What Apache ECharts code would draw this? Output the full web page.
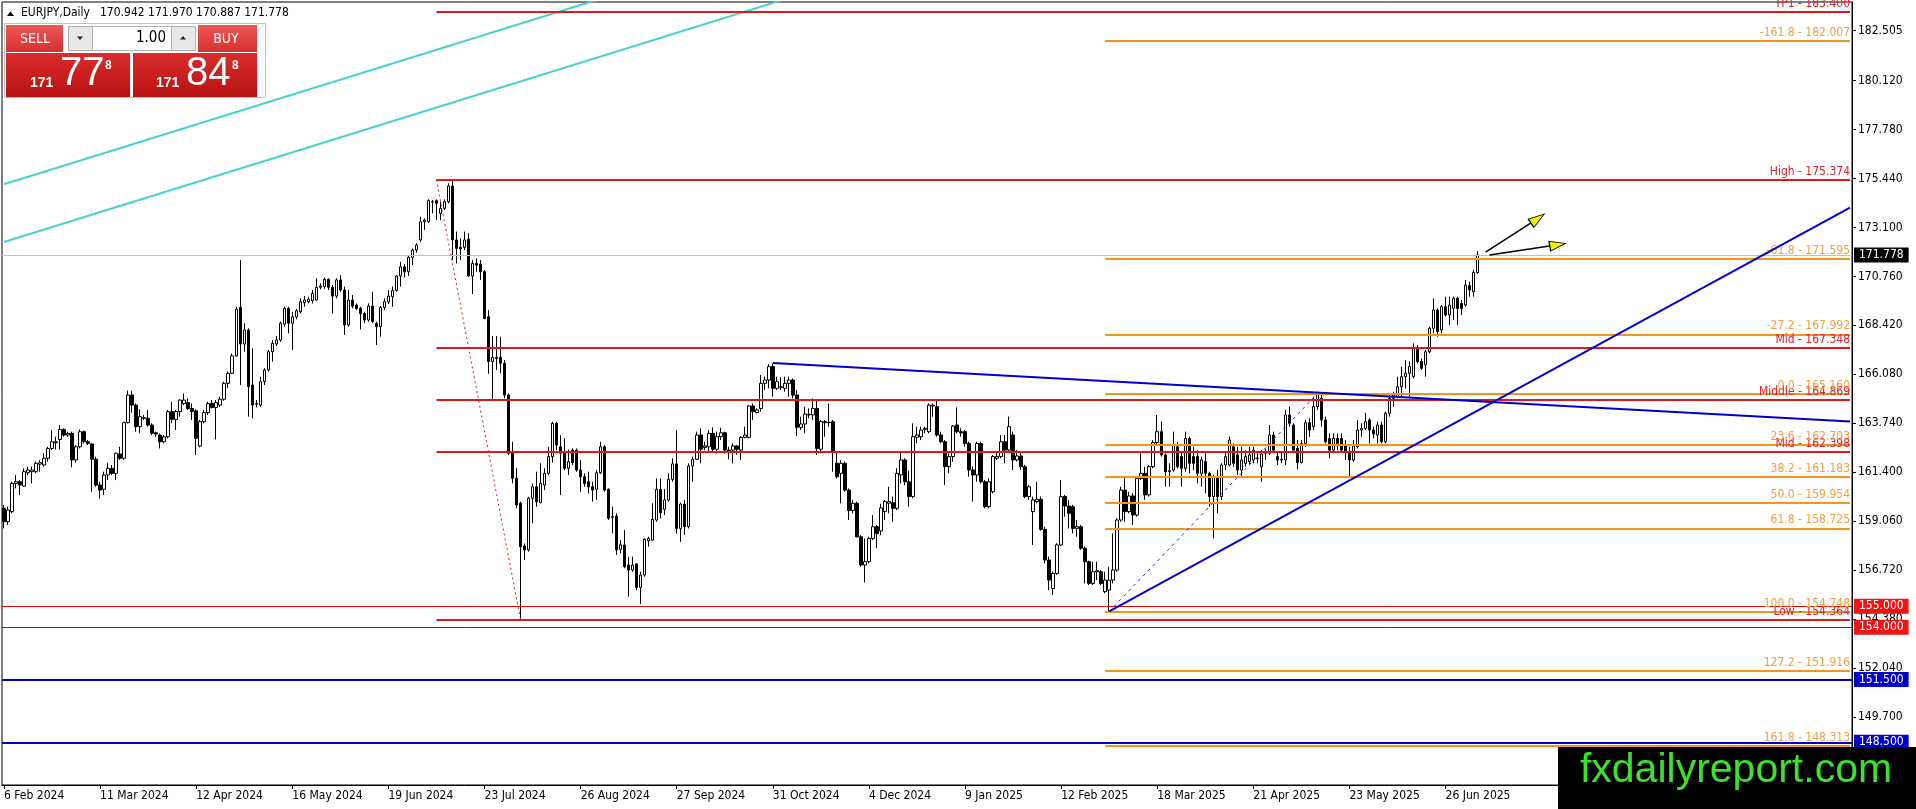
<!DOCTYPE html>
<html><head><meta charset="utf-8">
<script src="https://cdn.jsdelivr.net/npm/echarts@6/dist/echarts.min.js"></script>
<style>html,body{margin:0;padding:0;background:#fff;overflow:hidden}#c{width:1916px;height:809px}</style>
</head><body><div id="c"></div>
<script>
// ---------------- data ----------------
const symbolTitle = 'EURJPY,Daily';
const lastQuote = [170.942, 171.970, 170.887, 171.778];
const tickLabels = ['6 Feb 2024','11 Mar 2024','12 Apr 2024','16 May 2024','19 Jun 2024','23 Jul 2024','26 Aug 2024','27 Sep 2024','31 Oct 2024','4 Dec 2024','9 Jan 2025','12 Feb 2025','18 Mar 2025','21 Apr 2025','23 May 2025','26 Jun 2025'];
const priceTicks = [149.700,152.040,154.380,156.720,159.060,161.400,163.740,166.080,168.420,170.760,173.100,175.440,177.780,180.120,182.505];
// daily candles [open, high, low, close]
const ohlc = [
[159.68,159.84,158.72,159.04],[159.04,159.76,158.88,159.60],[159.52,160.95,159.44,160.87],[160.87,161.27,160.63,160.95],[160.95,161.03,160.31,160.79],
[160.74,161.59,160.71,161.43],[161.38,161.67,161.27,161.51],[161.43,161.67,160.87,161.51],[161.43,161.91,161.35,161.83],[161.79,161.99,161.43,161.86],
[161.75,162.31,161.67,162.07],[162.07,162.62,161.91,162.54],[162.54,163.42,162.46,162.86],[162.81,163.10,162.49,162.86],[162.97,163.66,162.49,163.45],
[163.45,163.50,163.10,163.18],[163.18,163.34,163.10,163.26],[163.26,163.34,161.64,161.99],[161.99,162.70,161.86,162.62],[162.62,163.45,162.54,163.34],
[163.34,163.39,162.78,162.86],[162.86,162.94,162.70,162.78],[162.75,162.78,160.47,162.02],[162.02,162.15,160.71,160.79],[160.79,160.95,160.15,160.55],
[160.59,161.43,160.31,161.27],[161.27,161.86,161.03,161.59],[161.59,161.75,161.27,161.35],[161.35,162.34,161.03,162.31],[162.27,162.62,161.99,162.07],
[162.07,163.82,161.99,163.77],[163.77,165.30,163.74,165.09],[165.09,165.30,164.25,164.61],[164.61,164.69,163.34,163.58],[163.58,164.41,163.26,164.06],
[163.98,164.14,163.90,164.02],[163.98,164.38,163.58,163.66],[163.66,163.74,163.18,163.26],[163.29,163.34,163.10,163.23],[163.18,163.26,162.54,162.86],
[162.86,163.18,162.78,163.10],[163.10,164.38,163.02,164.30],[164.30,164.77,163.74,163.93],[163.93,164.38,163.42,164.30],[164.30,164.89,164.06,164.85],
[164.69,165.17,164.61,164.85],[164.73,164.93,164.38,164.45],[164.45,164.69,163.90,164.30],[164.34,164.41,162.23,163.02],[162.65,163.90,162.59,163.82],
[163.82,164.38,163.74,164.25],[164.25,164.77,164.14,164.69],[164.69,164.85,164.45,164.50],[164.50,164.85,162.97,164.73],[164.61,165.01,164.53,164.89],
[164.89,165.73,164.82,165.65],[165.65,166.21,165.41,166.13],[166.13,167.08,166.10,166.96],[166.96,169.31,166.92,169.18],[169.28,171.54,165.57,167.53],
[167.53,168.52,167.16,168.20],[168.20,168.28,164.06,165.49],[165.57,167.32,163.98,164.61],[164.65,164.85,164.50,164.69],[164.61,165.97,164.53,165.73],
[165.73,166.37,165.57,166.29],[166.29,167.24,166.21,167.16],[167.16,167.72,166.69,167.56],[167.53,167.91,167.43,167.72],[167.72,168.60,167.64,168.52],
[168.48,169.31,168.36,169.23],[169.23,169.31,168.04,168.52],[168.52,169.07,167.24,168.83],[168.83,169.20,168.71,169.12],[169.07,169.71,168.99,169.55],
[169.50,169.82,169.31,169.63],[169.55,169.79,169.47,169.66],[169.60,170.11,169.47,169.95],[169.63,170.67,169.60,170.24],[170.24,170.43,170.14,170.30],
[170.27,170.71,170.17,170.62],[170.62,170.67,170.11,170.24],[170.24,170.35,168.99,169.82],[169.82,170.67,169.71,170.59],[170.59,170.82,170.03,170.11],
[170.11,170.27,167.96,168.44],[168.44,170.11,168.36,169.63],[169.63,169.87,169.23,169.34],[169.39,169.47,169.15,169.23],[169.23,169.31,168.23,168.99],
[168.99,169.07,168.52,168.68],[168.68,169.47,168.60,169.34],[169.34,170.03,168.52,168.60],[168.52,168.60,167.48,168.36],[168.36,169.34,167.88,169.28],
[169.28,169.71,169.15,169.55],[169.54,170.11,169.44,169.82],[169.79,170.27,169.31,170.08],[170.08,170.82,170.03,170.78],[170.78,171.46,170.27,171.22],
[171.22,171.35,170.71,170.98],[170.98,171.73,170.78,171.67],[171.67,172.10,171.30,172.02],[172.02,172.34,171.89,172.26],[172.50,173.61,172.42,173.37],
[173.37,173.53,172.98,173.45],[173.37,174.44,173.33,174.38],[174.33,174.41,173.77,174.31],[174.38,174.44,173.45,174.25],[173.77,174.33,173.45,174.01],
[174.01,174.44,173.93,174.33],[174.33,175.21,174.25,175.08],[175.08,175.37,171.54,172.50],[172.50,172.90,171.38,172.10],[172.15,172.58,171.54,172.07],
[172.15,172.90,172.02,172.50],[172.53,172.82,170.75,170.78],[170.78,171.54,169.92,171.38],[171.38,171.62,170.98,171.30],[171.35,171.54,170.59,170.98],
[170.98,171.06,168.71,168.75],[168.83,169.15,166.10,166.69],[166.69,167.91,164.85,166.89],[166.84,167.91,166.29,166.89],[166.89,167.88,166.13,166.61],
[166.61,166.76,164.93,165.09],[165.09,165.17,162.23,162.31],[162.31,162.86,160.87,161.11],[161.11,161.59,159.68,159.84],[159.92,160.00,154.36,157.84],
[157.88,158.00,157.21,157.69],[157.69,160.23,157.61,160.16],[160.16,160.87,158.96,160.71],[160.71,161.43,159.76,160.00],[159.95,161.83,159.92,160.87],
[160.79,161.59,160.55,161.35],[161.35,162.62,161.27,162.15],[162.15,163.82,161.86,163.74],[163.74,163.82,162.46,162.70],[162.62,163.18,160.31,162.31],
[162.31,163.02,161.51,161.59],[161.59,162.49,161.27,161.91],[162.46,162.54,161.75,161.86],[162.46,162.54,161.43,161.51],[161.51,161.99,160.47,161.19],
[161.19,161.35,160.71,160.87],[160.95,161.43,160.39,160.71],[160.71,160.95,160.00,160.55],[160.59,161.51,160.08,161.38],[161.38,162.86,161.32,162.62],
[162.62,162.70,160.47,160.55],[160.59,160.63,159.12,159.20],[159.25,159.76,158.48,159.28],[159.31,159.44,157.45,157.69],[157.72,158.17,157.53,157.93],
[157.93,158.64,156.81,156.89],[156.97,157.37,155.46,156.73],[156.73,157.37,156.65,156.97],[157.02,157.05,155.77,155.90],[155.90,156.65,155.11,156.49],
[156.49,158.24,156.41,158.20],[158.13,158.32,157.85,158.24],[158.16,159.92,158.13,159.15],[159.12,161.11,159.04,160.59],[160.59,161.11,159.20,159.47],
[159.63,160.59,159.36,160.08],[160.08,161.35,160.00,161.06],[161.06,162.07,160.95,161.80],[161.80,163.42,158.48,158.72],[158.72,159.95,158.08,159.88],
[159.88,160.08,158.40,158.80],[158.80,161.83,158.72,161.70],[161.70,162.15,160.95,162.02],[162.02,163.34,161.99,163.18],[163.18,163.50,161.83,162.50],
[162.59,162.86,162.46,162.66],[162.62,163.42,162.38,163.26],[163.26,163.55,162.38,162.50],[162.50,163.34,162.30,163.10],[163.10,163.53,162.94,163.29],
[163.29,163.34,162.30,162.46],[162.46,162.62,162.02,162.43],[162.46,162.78,161.83,162.66],[162.66,162.70,162.23,162.50],[162.46,163.13,161.99,163.07],
[163.07,163.58,163.02,163.18],[163.07,164.61,163.02,164.57],[164.57,164.69,163.90,164.30],[164.25,164.45,164.22,164.38],[164.45,166.05,164.30,165.65],
[165.65,165.97,165.33,165.81],[165.81,166.57,165.41,166.45],[166.45,166.60,165.01,165.41],[165.41,165.97,165.33,165.73],[165.46,165.94,165.33,165.49],
[165.41,165.97,165.25,165.65],[165.65,165.97,165.01,165.81],[165.81,165.89,164.93,165.09],[165.09,165.33,163.13,163.55],[163.55,164.06,163.42,163.71],
[163.71,164.53,163.26,164.18],[164.14,164.45,163.98,164.17],[164.14,164.93,163.90,164.45],[164.45,164.85,162.23,162.54],[162.50,163.90,162.30,163.82],
[163.82,163.90,163.10,163.77],[163.77,164.69,163.58,163.79],[163.82,163.90,161.43,162.38],[161.83,162.38,161.11,161.19],[161.35,161.99,159.92,161.83],
[161.83,161.91,160.47,160.55],[160.55,160.63,159.12,159.57],[159.57,160.08,159.44,159.92],[159.92,160.00,158.29,158.32],[158.32,158.40,156.89,156.97],
[156.97,158.24,156.13,157.13],[157.13,158.32,157.05,158.24],[158.24,159.36,158.16,158.80],[158.80,158.88,157.77,158.48],[158.60,159.90,158.40,159.70],
[159.52,160.08,159.12,160.00],[159.92,160.71,159.44,160.00],[159.95,160.24,159.04,159.68],[159.68,161.59,159.60,161.35],[161.27,162.38,160.87,161.99],
[161.99,162.07,160.79,160.95],[160.95,161.48,159.76,160.24],[160.24,163.74,160.16,163.10],[163.07,163.58,162.78,163.18],[163.10,163.58,162.94,163.42],
[163.45,163.58,163.26,163.50],[163.34,164.69,163.26,164.61],[164.57,164.69,164.06,164.61],[164.53,164.85,163.10,163.18],[163.18,163.34,162.78,162.86],
[162.86,162.94,160.79,161.67],[161.67,162.30,161.35,162.15],[162.15,163.66,161.91,163.61],[163.66,164.50,163.26,163.34],[163.34,163.50,163.10,163.29],
[163.34,163.42,162.62,162.78],[162.78,162.86,161.19,161.51],[161.51,161.67,160.00,161.27],[161.27,162.86,160.95,162.78],[162.78,162.86,160.87,160.95],
[160.95,161.03,159.68,159.76],[159.76,161.11,159.68,160.95],[160.47,162.23,160.39,162.15],[162.07,162.38,161.99,162.15],[162.15,163.18,162.07,162.86],
[162.86,163.18,161.83,162.46],[162.46,164.06,162.38,163.58],[163.18,163.34,161.51,161.99],[161.99,162.46,161.91,162.18],[162.18,162.38,161.51,161.67],
[161.67,161.75,160.16,160.24],[160.24,160.79,160.08,160.71],[159.52,160.24,157.93,160.08],[160.00,160.95,159.92,160.11],[160.11,160.24,158.61,158.67],
[158.67,158.80,157.05,157.21],[157.21,157.37,155.77,156.25],[155.85,156.65,155.54,156.57],[156.57,158.01,156.49,157.93],[157.93,161.03,157.88,160.24],
[160.24,160.32,159.28,159.79],[159.79,160.08,158.72,159.44],[159.76,159.84,158.48,158.72],[158.72,159.12,158.32,158.80],[158.80,158.88,157.69,157.77],
[157.77,157.85,156.09,157.13],[157.13,157.18,156.01,156.09],[156.09,157.13,156.01,156.65],[156.65,157.13,156.25,156.70],[156.65,156.73,156.01,156.09],
[155.70,156.65,155.62,156.25],[155.77,156.89,154.75,156.25],[156.25,158.48,156.09,156.73],[156.73,159.20,156.65,159.12],[159.12,160.71,159.04,160.55],
[160.55,161.19,159.04,159.52],[159.52,160.47,159.44,160.27],[160.27,160.39,158.88,159.36],[159.36,161.19,159.28,161.11],[161.11,162.30,161.03,161.35],
[161.35,161.67,160.08,160.32],[160.32,161.75,160.24,161.67],[161.67,162.94,161.59,162.82],[162.82,164.14,162.75,163.34],[163.34,163.82,162.15,162.23],
[162.23,162.30,160.71,161.43],[161.43,161.83,160.71,161.48],[161.51,163.34,161.43,162.70],[162.62,162.86,161.59,161.67],[162.15,162.39,160.71,161.59],
[161.59,163.34,161.43,163.02],[163.02,163.10,161.35,161.83],[162.15,162.62,161.51,161.83],[162.15,162.46,160.87,161.35],[161.35,162.15,160.71,161.99],
[161.91,162.31,160.40,161.35],[161.35,161.43,159.76,160.24],[160.24,161.27,158.24,161.19],[161.19,161.51,159.44,160.24],[160.24,161.83,160.08,161.75],
[161.75,162.31,161.51,162.15],[161.75,163.10,161.67,162.94],[162.62,162.78,161.67,161.83],[162.23,162.62,161.27,161.51],[161.51,162.62,161.19,161.99],
[161.83,162.46,161.67,162.15],[161.91,162.62,161.75,162.23],[161.99,162.62,161.83,162.46],[162.05,162.31,161.83,162.08],[161.67,162.46,160.95,162.27],
[162.31,162.54,161.99,162.35],[162.31,163.66,162.23,163.18],[163.18,163.34,162.31,162.46],[162.15,162.39,161.75,161.99],[161.99,162.39,161.83,162.02],
[161.99,164.38,161.75,164.14],[164.14,164.54,163.58,163.74],[163.66,163.74,162.31,162.46],[162.54,162.94,161.54,161.86],[161.86,162.94,161.83,162.78],
[162.78,163.90,162.62,163.77],[163.77,163.98,163.10,163.42],[163.58,165.01,163.42,164.54],[164.54,165.25,164.38,165.17],[164.93,165.17,163.58,163.90],
[163.90,164.06,162.78,162.86],[163.02,163.26,162.07,162.46],[162.46,163.26,162.31,163.02],[163.02,163.26,162.46,162.78],[163.02,163.26,162.39,162.46],
[162.70,162.94,161.99,162.39],[162.39,162.62,161.19,161.99],[161.99,162.94,161.91,162.66],[162.62,163.90,162.54,163.42],[163.42,163.74,163.10,163.50],
[163.50,164.25,163.42,163.82],[163.90,163.98,162.78,163.42],[163.42,163.58,163.02,163.23],[163.18,163.82,162.78,163.66],[163.66,163.82,162.78,162.86],
[162.86,164.30,162.78,164.22],[164.22,165.09,164.06,164.93],[164.93,165.25,164.54,165.09],[165.01,165.97,164.93,165.49],[165.49,166.45,165.01,165.97],
[165.97,166.76,165.41,166.13],[166.13,166.69,165.01,166.45],[165.97,167.56,165.89,167.32],[167.32,167.48,166.61,166.69],[166.69,166.84,166.29,166.37],
[166.53,167.24,165.97,167.16],[167.16,168.36,167.08,168.28],[168.28,169.71,168.04,169.15],[169.15,169.23,167.88,168.12],[168.20,169.39,168.04,169.31],
[169.31,169.79,168.84,168.92],[168.92,169.79,168.44,169.39],[169.23,169.79,168.68,169.71],[169.71,169.79,168.44,169.23],[169.47,169.63,168.92,169.23],
[169.39,170.59,169.31,170.35],[170.32,170.51,169.79,170.11],[170.03,171.07,169.79,170.95],[170.942,171.970,170.887,171.778]
];
// horizontal level objects
const redLevels = [['TP1',183.400],['High',175.374],['Mid',167.348],['Middle',164.869],['Mid',162.398],['Low',154.364]];
const redLevelStart = 108;
const fibLevels = [[-161.8,182.007],[-61.8,171.595],[-27.2,167.992],[0.0,165.160],[23.6,162.703],[38.2,161.183],[50.0,159.954],[61.8,158.725],[100.0,154.748],[127.2,151.916],[161.8,148.313]];
const fibStart = 275;
const thinRedLines = [155.000, 154.000];
const blueLines = [151.500, 148.500];
const bidPrice = 171.778;
// trend line anchors [bar index, price]
const cyanLineA = [[0,172.40],[260,187.87]];
const cyanLineB = [[0,175.16],[200,187.06]];
const downTrend = [[192,166.62],[461,163.83]];
const upTrend = [[276,154.75],[461,174.05]];
const hiLoDiag = [[108,175.374],[129,154.364]];
const fibDiag = [[276,154.748],[328,165.160]];
const arrowUp = [[370,171.92],[383,173.52]];
const arrowRight = [[371,171.78],[388,172.27]];

// ---------------- chart ----------------
const FONT = "'DejaVu Sans Condensed','Liberation Sans',Arial,sans-serif";
const ARIAL = "'Liberation Sans',Arial,sans-serif";
const N_SLOTS = 462, LAST = N_SLOTS - 1;
const Y_MIN = 146.46, Y_MAX = 183.87;
const RED = '#dc1a1a', ORANGE = '#f39422', ORANGE_TXT = '#eea040', BLUE = '#0000cd';
const MON = ['Jan','Feb','Mar','Apr','May','Jun','Jul','Aug','Sep','Oct','Nov','Dec'];
const categories = [];
{ const d = new Date(Date.UTC(2024,1,6));
  while (categories.length < N_SLOTS) {
    const wd = d.getUTCDay();
    if (wd !== 0 && wd !== 6) categories.push(d.getUTCDate()+' '+MON[d.getUTCMonth()]+' '+d.getUTCFullYear());
    d.setUTCDate(d.getUTCDate()+1);
  } }
const showTick = (i) => i % 24 === 0 && i / 24 < tickLabels.length;

const ml = [];
redLevels.forEach(([n,p]) => ml.push([
  {coord:[redLevelStart,p], lineStyle:{color:RED,width:2,type:'solid'},
   label:{show:true,position:'insideEndTop',formatter:n+' - '+p.toFixed(3),color:'#e0202a',fontSize:12,fontFamily:FONT,distance:[0,2]}},
  {coord:[LAST,p]}]));
fibLevels.forEach(([lv,p]) => ml.push([
  {coord:[fibStart,p], lineStyle:{color:ORANGE,width:2,type:'solid'},
   label:{show:true,position:'insideEndTop',formatter:lv.toFixed(1)+' - '+p.toFixed(3),color:ORANGE_TXT,fontSize:12,fontFamily:FONT,distance:[0,2]}},
  {coord:[LAST,p]}]));
const boxLabel = (txt,bg) => ({show:true,position:'end',formatter:txt,color:'#fff',backgroundColor:bg,padding:[2,5,1,5],fontSize:12,fontFamily:FONT,distance:2});
thinRedLines.forEach(p => ml.push({yAxis:p, lineStyle:{color:'#e00000',width:1,type:'solid'}, label:boxLabel(p.toFixed(3),'#f01515')}));
blueLines.forEach(p => ml.push({yAxis:p, lineStyle:{color:BLUE,width:2,type:'solid'}, label:boxLabel(p.toFixed(3),BLUE)}));
ml.push({yAxis:bidPrice, lineStyle:{color:'#c0c0c0',width:1,type:'solid'}, label:boxLabel(bidPrice.toFixed(3),'#000')});

const lineSeries = (name, pts, color, width, type, z) => ({
  type:'line', name, data:pts, symbol:'none', showSymbol:false, silent:true, animation:false, clip:true, z:z||4,
  lineStyle:{color,width,type}
});
const arrowSeries = (name, pts, rot) => ({
  type:'line', name, symbol:'triangle', symbolSize:[10,16], showSymbol:true, showAllSymbol:true, silent:true, animation:false, z:6, clip:false,
  lineStyle:{color:'#000',width:1.6},
  itemStyle:{color:'#f2f200',borderColor:'#000',borderWidth:1},
  data:[{value:pts[0],symbol:'none'},{value:pts[1],symbol:'triangle',symbolSize:[10,16],symbolRotate:rot,itemStyle:{color:'#f2f200',borderColor:'#000',borderWidth:1}}]
});

const grad = (a,b) => ({type:'linear',x:0,y:0,x2:0,y2:1,colorStops:[{offset:0,color:a},{offset:1,color:b}]});
const txt = (x,y,t,font,fill,align) => ({type:'text',x,y,z:101,style:{text:t,font,fill,textAlign:align||'left',textVerticalAlign:'middle'}});
const graphic = [
  {type:'polygon',z:101,shape:{points:[[7,16],[14,16],[10.5,11.5]]},style:{fill:'#000'}},
  txt(21,13,symbolTitle,'12px '+FONT,'#000'),
  txt(100,13,lastQuote.map(v=>v.toFixed(3)).join(' '),'12px '+FONT,'#000'),
  {type:'rect',z:100,shape:{x:4.5,y:23.5,width:261,height:74},style:{fill:'#fff',stroke:'#c4c4c4',lineWidth:1}},
  {type:'rect',z:101,shape:{x:6,y:25,width:57,height:27},style:{fill:grad('#ee5858','#d83030')}},
  {type:'rect',z:101,shape:{x:198,y:25,width:59,height:27},style:{fill:grad('#ee5858','#d83030')}},
  {type:'rect',z:101,shape:{x:68.5,y:26.5,width:24,height:24},style:{fill:'#e8e8e8',stroke:'#b0b0b0',lineWidth:1}},
  {type:'rect',z:101,shape:{x:92.5,y:26.5,width:79,height:24},style:{fill:'#fff',stroke:'#b0b0b0',lineWidth:1}},
  {type:'rect',z:101,shape:{x:171.5,y:26.5,width:24,height:24},style:{fill:'#e8e8e8',stroke:'#b0b0b0',lineWidth:1}},
  {type:'polygon',z:102,shape:{points:[[77,36.5],[83,36.5],[80,40]]},style:{fill:'#222'}},
  {type:'polygon',z:102,shape:{points:[[180,39.5],[186,39.5],[183,36]]},style:{fill:'#222'}},
  txt(35,39,'SELL','14px '+FONT,'#fff','center'),
  txt(226,39,'BUY','14px '+FONT,'#fff','center'),
  txt(166,38.5,'1.00','15px '+FONT,'#000','right'),
  {type:'rect',z:101,shape:{x:6,y:53,width:124,height:44},style:{fill:grad('#da2c2c','#b81212')}},
  {type:'rect',z:101,shape:{x:133,y:53,width:124,height:44},style:{fill:grad('#da2c2c','#b81212')}},
  txt(30,83,'171','bold 14px '+ARIAL,'#fff'),
  txt(60,74,'77','40px '+ARIAL,'#fff'),
  txt(105,66,'8','bold 12px '+ARIAL,'#fff'),
  txt(156,83,'171','bold 14px '+ARIAL,'#fff'),
  txt(186,74,'84','40px '+ARIAL,'#fff'),
  txt(232,66,'8','bold 12px '+ARIAL,'#fff'),
  {type:'rect',z:110,shape:{x:1558,y:747,width:358,height:62},style:{fill:'#000'}},
  txt(1736,771,'fxdailyreport.com','41px '+ARIAL,'#3ae22a','center')
];
graphic.forEach(g => { if (g.type==='text') g.z = (g.y>700?111:101); });

const option = {
  animation:false,
  backgroundColor:'#ffffff',
  grid:{left:2,top:2,width:1850,height:783,show:true,borderColor:'#000',borderWidth:1,backgroundColor:'transparent',containLabel:false,outerBoundsMode:'none'},
  xAxis:{type:'category',data:categories,boundaryGap:true,
    axisLine:{show:true,lineStyle:{color:'#000',width:1}},
    axisTick:{show:true,alignWithLabel:true,interval:showTick,length:4,lineStyle:{color:'#000'}},
    axisLabel:{show:true,interval:showTick,formatter:(v,i)=>tickLabels[i/24]||'',align:'left',margin:5,color:'#000',fontSize:12,fontFamily:FONT},
    splitLine:{show:false}},
  yAxis:{type:'value',position:'right',min:Y_MIN,max:Y_MAX,scale:true,
    axisLine:{show:true,lineStyle:{color:'#000',width:1}},
    axisTick:{show:true,length:4,customValues:priceTicks,lineStyle:{color:'#000'}},
    axisLabel:{show:true,customValues:priceTicks,formatter:v=>Number(v).toFixed(3),margin:6,color:'#000',fontSize:12,fontFamily:FONT},
    splitLine:{show:false}},
  series:[
    {type:'candlestick',name:'EURJPY',data:ohlc.map(([o,h,l,c])=>[o,c,l,h]),barWidth:3,z:3,silent:true,animation:false,
     itemStyle:{color:'#ffffff',color0:'#000000',borderColor:'#000000',borderColor0:'#000000',borderWidth:1},
     markLine:{symbol:['none','none'],silent:true,animation:false,z:5,data:ml}},
    lineSeries('cyanA',cyanLineA,'#48d1cc',2,'solid'),
    lineSeries('cyanB',cyanLineB,'#48d1cc',2,'solid'),
    lineSeries('downTrend',downTrend,BLUE,2,'solid',6),
    lineSeries('upTrend',upTrend,BLUE,2,'solid',6),
    lineSeries('hiLoDiag',hiLoDiag,'#d42020',1,[2,3],6),
    lineSeries('fibDiag',fibDiag,'#2a2ad0',1,[3,4],6),
    arrowSeries('arrowUp',arrowUp,-55),
    arrowSeries('arrowRight',arrowRight,-80)
  ],
  graphic
};
const chart = echarts.init(document.getElementById('c'),null,{renderer:'canvas'});
chart.setOption(option);
</script>
</body></html>
